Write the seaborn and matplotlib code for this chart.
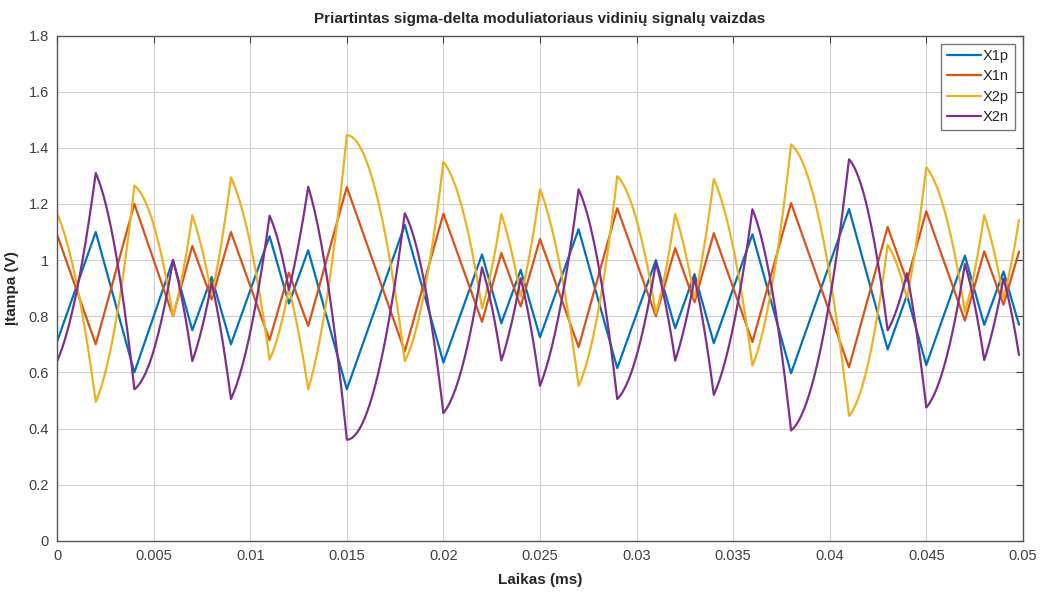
import numpy as np
import pandas as pd
import matplotlib
matplotlib.use("Agg")
import matplotlib.pyplot as plt
import seaborn as sns

# Switching instants (s) where the integrator slopes change
t_knots = [0.0, 0.002, 0.004, 0.006, 0.007, 0.008, 0.009, 0.011, 0.012, 0.013,
           0.015, 0.018, 0.020, 0.022, 0.023, 0.024, 0.025, 0.027, 0.029, 0.031,
           0.032, 0.033, 0.034, 0.036, 0.038, 0.041, 0.043, 0.044, 0.045, 0.047,
           0.048, 0.049, 0.0498]

# First integrator outputs (piecewise linear)
x1p = [0.71, 1.10, 0.60, 1.00, 0.75, 0.94, 0.70, 1.085, 0.845, 1.035,
       0.54, 1.125, 0.635, 1.02, 0.775, 0.965, 0.725, 1.11, 0.615, 1.00,
       0.757, 0.95, 0.704, 1.092, 0.597, 1.182, 0.682, 0.875, 0.626, 1.016,
       0.769, 0.959, 0.77]
x1n = [1.09, 0.70, 1.20, 0.80, 1.05, 0.86, 1.10, 0.715, 0.955, 0.765,
       1.26, 0.675, 1.165, 0.78, 1.025, 0.835, 1.075, 0.69, 1.185, 0.80,
       1.043, 0.85, 1.096, 0.708, 1.203, 0.618, 1.118, 0.925, 1.174, 0.784,
       1.031, 0.841, 1.03]

# Second integrator outputs at the switching instants
x2p = [1.165, 0.495, 1.265, 0.80, 1.16, 0.875, 1.295, 0.645, 0.90, 0.54,
       1.445, 0.64, 1.35, 0.828, 1.164, 0.87, 1.252, 0.552, 1.299, 0.81,
       1.164, 0.864, 1.289, 0.624, 1.412, 0.445, 1.054, 0.864, 1.33, 0.816,
       1.16, 0.865, 1.143]
x2n = [0.64, 1.31, 0.54, 1.00, 0.64, 0.92, 0.505, 1.158, 0.894, 1.261,
       0.36, 1.167, 0.455, 0.974, 0.642, 0.935, 0.552, 1.252, 0.505, 0.99,
       0.642, 0.935, 0.52, 1.181, 0.393, 1.359, 0.75, 0.953, 0.475, 0.986,
       0.644, 0.935, 0.662]

# Second integrator outputs halfway through each segment (curved segments)
x2p_mid = [0.92, 0.765, 1.125, 0.951, 1.039, 1.057, 1.059, 0.745, 0.742, 0.879,
           1.244, 0.882, 1.178, 0.968, 1.039, 1.033, 0.991, 0.812, 1.143, 0.959,
           1.036, 1.048, 1.046, 0.904, 1.130, 0.635, 0.981, 1.068, 1.163, 0.960,
           1.034, 0.987]
x2n_mid = [0.885, 1.04, 0.678, 0.849, 0.758, 0.740, 0.743, 1.054, 1.056, 0.925,
           0.562, 0.924, 0.626, 0.836, 0.767, 0.771, 0.813, 0.992, 0.659, 0.844,
           0.767, 0.756, 0.761, 0.901, 0.674, 1.170, 0.830, 0.743, 0.641, 0.843,
           0.768, 0.816]

series_names = ["X1p", "X1n", "X2p", "X2n"]
series_colors = ["#0072BD", "#D95319", "#EDB120", "#7E2F8E"]

x_ticks = [0, 0.005, 0.01, 0.015, 0.02, 0.025, 0.03, 0.035, 0.04, 0.045, 0.05]
x_tick_labels = ["0", "0.005", "0.01", "0.015", "0.02", "0.025", "0.03",
                 "0.035", "0.04", "0.045", "0.05"]
y_ticks = [0, 0.2, 0.4, 0.6, 0.8, 1.0, 1.2, 1.4, 1.6, 1.8]
y_tick_labels = ["0", "0.2", "0.4", "0.6", "0.8", "1", "1.2", "1.4", "1.6", "1.8"]


def parabolic_segments(t, v, vm, n=24):
    """Trace a quadratic through start, midpoint and end of every segment."""
    ts, vs = [], []
    for i in range(len(t) - 1):
        s = np.linspace(0.0, 1.0, n)
        if i > 0:
            s = s[1:]
        w0 = 2 * (s - 0.5) * (s - 1)
        wm = -4 * s * (s - 1)
        w1 = 2 * s * (s - 0.5)
        ts.append(t[i] + s * (t[i + 1] - t[i]))
        vs.append(w0 * v[i] + wm * vm[i] + w1 * v[i + 1])
    return np.concatenate(ts), np.concatenate(vs)


frames = []
for name, vals in (("X1p", x1p), ("X1n", x1n)):
    frames.append(pd.DataFrame({"t": t_knots, "v": vals, "signal": name}))
for name, vals, mids in (("X2p", x2p, x2p_mid), ("X2n", x2n, x2n_mid)):
    tt, vv = parabolic_segments(t_knots, vals, mids)
    frames.append(pd.DataFrame({"t": tt, "v": vv, "signal": name}))
df = pd.concat(frames, ignore_index=True)

sns.set_theme(style="white")
plt.rcParams["font.family"] = ["Liberation Sans", "DejaVu Sans"]

fig = plt.figure(figsize=(10.48, 5.92), dpi=100)
ax = fig.add_axes([0.0545, 0.0865, 0.9215, 0.8535])

sns.lineplot(data=df, x="t", y="v", hue="signal", hue_order=series_names,
             palette=dict(zip(series_names, series_colors)), sort=False,
             estimator=None, linewidth=1.6, ax=ax)

ax.set_xlim(0, 0.05)
ax.set_ylim(0, 1.8)
ax.set_xticks(x_ticks)
ax.set_xticklabels(x_tick_labels)
ax.set_yticks(y_ticks)
ax.set_yticklabels(y_tick_labels)
ax.grid(True, color="#d0d0d0", linewidth=0.8)
ax.set_axisbelow(True)
for sp in ax.spines.values():
    sp.set_color("#555555")
    sp.set_linewidth(1.0)
ax.tick_params(direction="in", top=True, right=True, length=5, width=0.8,
               color="#444444", labelsize=10.5, labelcolor="#404040", pad=6)

ax.set_title("Priartintas sigma-delta moduliatoriaus vidinių signalų vaizdas",
             fontsize=11, fontweight="bold", pad=9)
ax.set_xlabel("Laikas (ms)", fontsize=11, fontweight="bold", labelpad=7)
ax.set_ylabel("Įtampa (V)", fontsize=11, fontweight="bold")
ax.yaxis.set_label_coords(-0.039, 0.5)

leg = ax.legend(loc="upper right", fontsize=10.5, frameon=True, fancybox=False,
                handlelength=2.3, handletextpad=0.15, borderpad=0.4,
                labelspacing=0.42, borderaxespad=0.55)
leg.get_frame().set_edgecolor("#555555")
leg.get_frame().set_linewidth(1.0)
leg.set_title(None)

fig.savefig("out.png", dpi=100)
